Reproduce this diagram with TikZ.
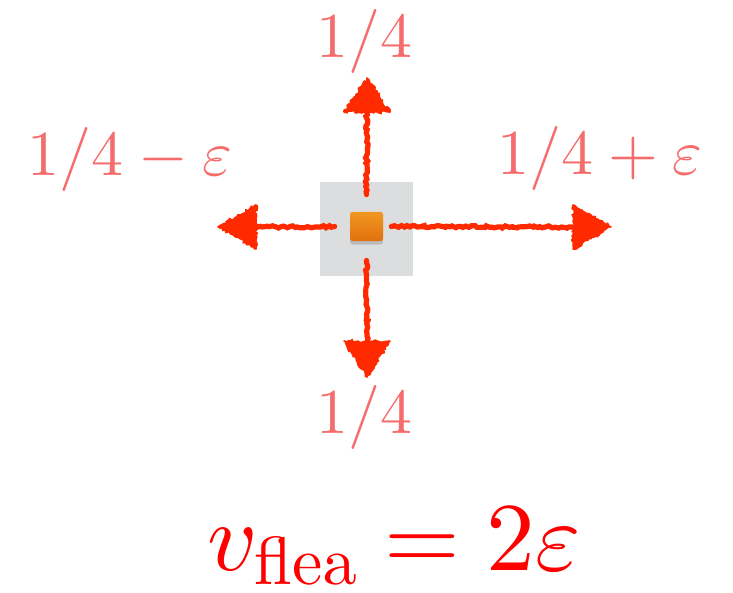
\documentclass[tikz,border=0pt]{standalone}
\usepackage{xcolor}
\usepackage{tikz}
\usetikzlibrary{calc,shadows,decorations.pathmorphing}

% scale the 10pt designs to any size
\DeclareFontShape{OT1}{cmr}{m}{n}{<->cmr10}{}
\DeclareFontShape{OML}{cmm}{m}{it}{<->cmmi10}{}
\DeclareFontShape{OMS}{cmsy}{m}{n}{<->cmsy10}{}

\definecolor{arrowred}{RGB}{255,42,0}
\definecolor{labelred}{RGB}{245,108,108}
\definecolor{cellgray}{RGB}{220,221,223}

\begin{document}
\begin{tikzpicture}[x=0.75pt,y=-0.75pt,
  shaft/.style={draw=arrowred,line width=3.9pt,line cap=round,
    decorate,decoration={random steps,segment length=2pt,amplitude=0.9pt}},
  head/.style={fill=arrowred,draw=arrowred,line width=1.2pt,line join=round,
    decorate,decoration={random steps,segment length=1.5pt,amplitude=1.2pt}},
  prob/.style={text=labelred,anchor=base,inner sep=0pt,font=\fontsize{48}{56}\selectfont}]
\useasboundingbox (0,0) rectangle (733,593);
% the cell and the flea
\node[fill=cellgray,minimum width=70pt,minimum height=70.5pt,inner sep=0pt] (cell) at (366.5,229) {};
\node[rounded corners=2pt,top color={rgb,255:red,241;green,152;blue,32},
  bottom color={rgb,255:red,224;green,112;blue,14},
  drop shadow={shadow xshift=0pt,shadow yshift=-2.5pt,opacity=0.35},
  minimum width=24.75pt,minimum height=22pt,inner sep=0pt] (flea) at (366.5,226.5) {};
% arrow tips
\coordinate (tipN) at (367,78);
\coordinate (tipS) at (367,377);
\coordinate (tipW) at (218,227);
\coordinate (tipE) at (611,227);
% shafts
\draw[shaft] ($(flea.north)+(0,-17)$) -- ($(tipN)+(0,33)$);
\draw[shaft] ($(flea.south)+(0,19)$) -- ($(tipS)+(0,-35)$);
\draw[shaft] ($(flea.west)+(-15,0)$) -- ($(tipW)+(38,0)$);
\draw[shaft] ($(flea.east)+(8,0)$) -- ($(tipE)+(-38,0)$);
% heads
\fill[head] ($(tipN)+(-23,34)$) -- (tipN) -- ($(tipN)+(23,34)$) -- cycle;
\fill[head] ($(tipS)+(-23,-36)$) -- (tipS) -- ($(tipS)+(23,-36)$) -- cycle;
\fill[head] ($(tipW)+(38,-22)$) -- (tipW) -- ($(tipW)+(38,22)$) -- cycle;
\fill[head] ($(tipE)+(-38,-22)$) -- (tipE) -- ($(tipE)+(-38,22)$) -- cycle;
% probabilities
\node[prob] (pN) at (364,57) {$1/4$};
\node[prob] (pS) at (364,433) {$1/4$};
\node[prob] (pW) at (130,175) {$1/4-\varepsilon$};
\node[prob] (pE) at (600,174) {$1/4+\varepsilon$};
% speed
\node[text=red,anchor=base,inner sep=0pt,font=\fontsize{73}{80}\selectfont] (speed) at (394,570)
  {$v_{\mathrm{flea}}=2\varepsilon$};
\end{tikzpicture}
\end{document}
